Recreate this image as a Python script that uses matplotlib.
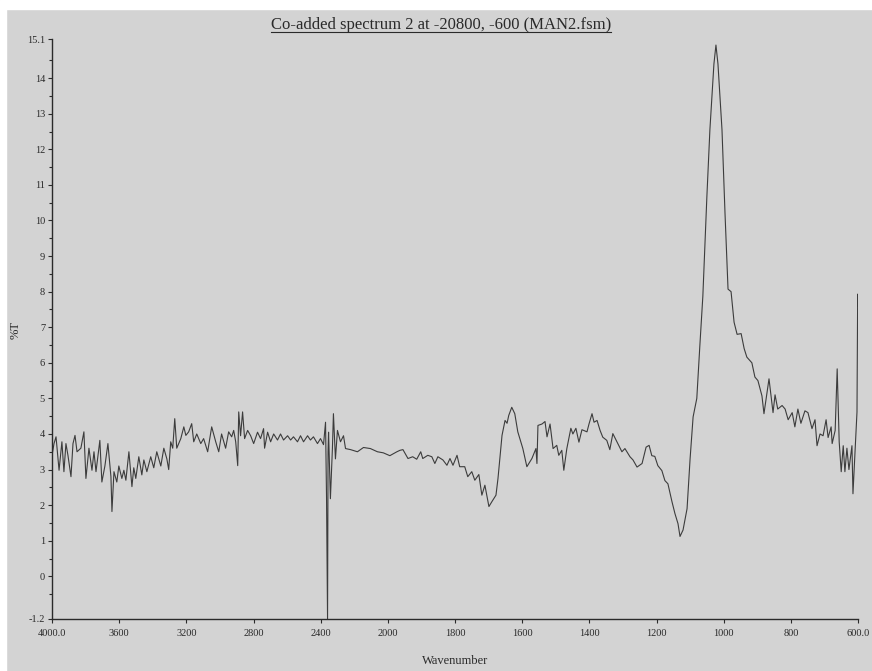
import numpy as np
import matplotlib
matplotlib.use("Agg")
import matplotlib.pyplot as plt
from matplotlib.patches import Rectangle
from matplotlib.lines import Line2D

# spectrum (wavenumber, %T)
wavenumber = [
    4000, 3988, 3976, 3958, 3941, 3929, 3917, 3905, 3887, 3875, 3863, 3851,
    3828, 3810, 3798, 3780, 3762, 3750, 3738, 3715, 3703, 3685, 3667, 3649,
    3643, 3631, 3614, 3602, 3584, 3572, 3560, 3542, 3524, 3513, 3501, 3483,
    3465, 3453, 3435, 3412, 3394, 3376, 3352, 3334, 3316, 3305, 3293, 3281,
    3269, 3257, 3233, 3215, 3203, 3186, 3168, 3156, 3138, 3114, 3097, 3073,
    3049, 3025, 3007, 2990, 2966, 2948, 2930, 2918, 2906, 2894, 2888, 2877,
    2865, 2853, 2835, 2817, 2799, 2776, 2758, 2740, 2734, 2716, 2698, 2680,
    2657, 2639, 2621, 2597, 2579, 2562, 2538, 2520, 2502, 2478, 2461, 2443,
    2419, 2401, 2383, 2371, 2365, 2359, 2356, 2353, 2342, 2330, 2324, 2312,
    2300, 2282, 2264, 2252, 2222, 2181, 2145, 2104, 2062, 2027, 1994, 1973,
    1964, 1955, 1940, 1926, 1914, 1902, 1896, 1881, 1869, 1860, 1851, 1836,
    1824, 1815, 1806, 1794, 1786, 1771, 1762, 1750, 1741, 1729, 1720, 1711,
    1699, 1690, 1678, 1672, 1660, 1651, 1645, 1640, 1631, 1622, 1613, 1598,
    1586, 1571, 1559, 1556, 1553, 1541, 1532, 1526, 1517, 1508, 1497, 1491,
    1482, 1476, 1467, 1455, 1449, 1440, 1431, 1422, 1407, 1401, 1392, 1386,
    1377, 1368, 1360, 1348, 1339, 1330, 1315, 1303, 1294, 1279, 1270, 1258,
    1243, 1231, 1222, 1214, 1205, 1196, 1184, 1175, 1166, 1154, 1145, 1136,
    1130, 1121, 1109, 1100, 1091, 1080, 1071, 1062, 1050, 1041, 1029, 1023,
    1017, 1005, 996, 987, 978, 969, 960, 948, 939, 931, 916, 907,
    898, 886, 880, 865, 853, 847, 839, 826, 817, 808, 796, 788,
    779, 770, 758, 749, 737, 728, 722, 713, 704, 695, 689, 680,
    677, 668, 662, 656, 650, 644, 639, 633, 627, 618, 615, 603,
    601, 600,
]
transmittance = [
    3.40, 3.73, 3.92, 2.98, 3.78, 2.94, 3.73, 3.40, 2.80, 3.73, 3.96, 3.50,
    3.60, 4.06, 2.75, 3.60, 2.98, 3.50, 2.94, 3.82, 2.65, 3.10, 3.73, 2.80,
    1.82, 2.94, 2.65, 3.10, 2.75, 2.98, 2.70, 3.50, 2.52, 3.05, 2.75, 3.36,
    2.85, 3.27, 2.94, 3.36, 3.05, 3.50, 3.10, 3.60, 3.30, 3.00, 3.78, 3.60,
    4.43, 3.60, 3.87, 4.20, 3.96, 4.06, 4.29, 3.78, 4.00, 3.73, 3.87, 3.50,
    4.20, 3.78, 3.50, 4.00, 3.60, 4.06, 3.92, 4.10, 3.78, 3.11, 4.62, 3.95,
    4.62, 3.87, 4.10, 3.95, 3.73, 4.05, 3.87, 4.15, 3.60, 4.05, 3.78, 4.00,
    3.83, 4.00, 3.83, 3.95, 3.83, 3.92, 3.78, 3.95, 3.78, 3.95, 3.83, 3.92,
    3.73, 3.87, 3.70, 4.33, 2.18, -1.20, 3.50, 4.05, 2.18, 3.60, 4.57, 3.30,
    4.10, 3.78, 3.95, 3.59, 3.56, 3.50, 3.62, 3.59, 3.50, 3.47, 3.39, 3.50,
    3.54, 3.56, 3.31, 3.36, 3.29, 3.50, 3.31, 3.40, 3.36, 3.17, 3.36, 3.27,
    3.12, 3.31, 3.12, 3.40, 3.08, 3.08, 2.80, 2.94, 2.70, 2.86, 2.28, 2.56,
    1.96, 2.10, 2.28, 2.75, 3.96, 4.38, 4.30, 4.52, 4.75, 4.57, 4.06, 3.59,
    3.08, 3.31, 3.59, 3.17, 4.24, 4.28, 4.35, 3.92, 4.28, 3.59, 3.68, 3.40,
    3.54, 2.98, 3.59, 4.16, 4.00, 4.16, 3.77, 4.12, 4.06, 4.28, 4.57, 4.33,
    4.38, 4.10, 3.91, 3.82, 3.56, 4.01, 3.73, 3.50, 3.59, 3.36, 3.27, 3.07,
    3.17, 3.63, 3.68, 3.39, 3.37, 3.11, 2.97, 2.69, 2.60, 2.10, 1.76, 1.48,
    1.12, 1.30, 1.90, 3.30, 4.48, 5.00, 6.47, 7.87, 10.67, 12.55, 14.40, 14.93,
    14.40, 12.55, 10.20, 8.07, 8.00, 7.14, 6.80, 6.82, 6.40, 6.16, 6.00, 5.60,
    5.50, 5.07, 4.57, 5.55, 4.60, 5.10, 4.70, 4.80, 4.70, 4.40, 4.60, 4.20,
    4.70, 4.30, 4.65, 4.60, 4.15, 4.40, 3.67, 4.00, 3.95, 4.40, 3.90, 4.20,
    3.73, 4.10, 5.83, 3.78, 2.94, 3.67, 2.94, 3.60, 3.00, 3.67, 2.32, 4.62,
    7.93, 7.60,
]

x_ticks = [4000, 3600, 3200, 2800, 2400, 2000, 1800, 1600, 1400, 1200, 1000, 800, 600]
x_labels = ["4000.0", "3600", "3200", "2800", "2400", "2000", "1800", "1600",
            "1400", "1200", "1000", "800", "600.0"]
y_ticks = [-1.2, 0, 1, 2, 3, 4, 5, 6, 7, 8, 9, 10, 11, 12, 13, 14, 15.1]
y_labels = ["-1.2", "0", "1", "2", "3", "4", "5", "6", "7", "8", "9", "10",
            "11", "12", "13", "14", "15.1"]


def fwd(x):
    # instrument halves the scale above 2000 cm-1
    x = np.asarray(x, dtype=float)
    return np.where(x >= 2000, (x - 2000) / 2.0, x - 2000)


def inv(y):
    y = np.asarray(y, dtype=float)
    return np.where(y >= 0, 2000 + 2.0 * y, y + 2000)


bg = "#d3d3d3"
ink = "#2a2a2a"
plt.rcParams["font.family"] = ["Liberation Serif", "DejaVu Serif"]

fig = plt.figure(figsize=(8.72, 6.71), dpi=100, facecolor=bg)
# white paper edges of the scan
fig.patches.append(Rectangle((0, 1 - 9 / 671), 1, 9 / 671, transform=fig.transFigure,
                             color="white", zorder=0))
fig.patches.append(Rectangle((0, 0), 6 / 872, 1, transform=fig.transFigure,
                             color="white", zorder=0))

ax = fig.add_axes([52 / 872, 1 - 619 / 671, 806 / 872, 580 / 671])
ax.set_facecolor(bg)
ax.set_xscale("function", functions=(fwd, inv))
ax.plot(wavenumber, transmittance, color="#3c3c3c", lw=0.8)
ax.set_xlim(4000, 600)
ax.set_ylim(-1.2, 15.1)

ax.set_xticks(x_ticks)
ax.set_xticklabels(x_labels)
ax.set_xticks([], minor=True)
ax.set_yticks(y_ticks)
ax.set_yticklabels(y_labels)
ax.set_yticks(np.arange(-0.5, 15.0, 1.0), minor=True)

for side in ["top", "right"]:
    ax.spines[side].set_visible(False)
for side in ["left", "bottom"]:
    ax.spines[side].set_color(ink)
    ax.spines[side].set_linewidth(1.0)

ax.tick_params(axis="both", which="major", labelsize=7.5, colors=ink, length=3, width=0.8, pad=2)
ax.tick_params(axis="x", which="major", pad=4)
ax.tick_params(axis="y", which="minor", length=2.5, width=0.8, colors=ink)

# axis titles placed where the scan has them
fig.text(16 / 872, 1 - 330 / 671, "%T", rotation=90, ha="center", va="center",
         fontsize=9, color=ink)
fig.text(455 / 872, 1 - 661 / 671, "Wavenumber", ha="center", va="center",
         fontsize=9, color=ink)

title = fig.text(441 / 872, 1 - 25 / 671, "Co-added spectrum 2 at -20800, -600 (MAN2.fsm)",
                 ha="center", va="center", fontsize=12, color=ink)

# underline the title
fig.canvas.draw()
bb = title.get_window_extent()
W, H = fig.bbox.width, fig.bbox.height
uy = (bb.y0 + 1) / H
fig.add_artist(Line2D([bb.x0 / W, bb.x1 / W], [uy, uy], transform=fig.transFigure,
                      color=ink, lw=0.8))

fig.savefig("out.png", dpi=100, facecolor=bg)
